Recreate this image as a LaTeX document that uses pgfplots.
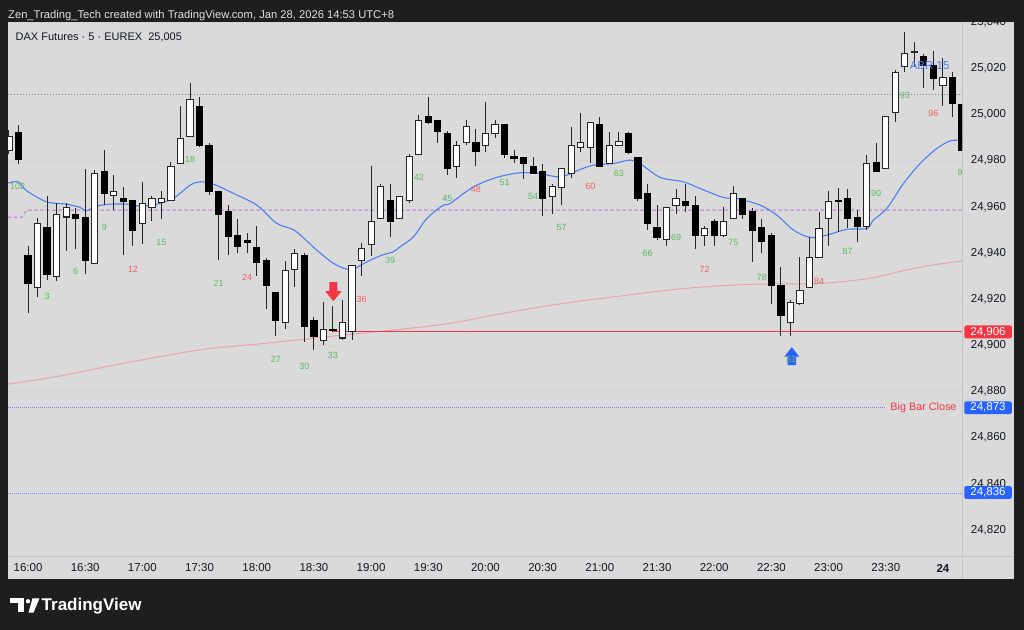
\documentclass[border=0pt]{standalone}
\usepackage{fontspec}
\setmainfont{Liberation Sans}
\usepackage{pgfplots}
\usepackage{pgfplotstable}
\pgfplotsset{compat=1.18}

\definecolor{frame}{HTML}{1E1E1E}
\definecolor{panel}{HTML}{DADADA}
\definecolor{sepc}{HTML}{C4C4C4}
\definecolor{gridc}{HTML}{D5D5D5}
\definecolor{ink}{HTML}{131722}
\definecolor{lblgreen}{HTML}{5DB862}
\definecolor{lblred}{HTML}{F0606A}
\definecolor{ema}{HTML}{4F7EF0}
\definecolor{slow}{HTML}{E9A3A6}
\definecolor{lilac}{HTML}{C59AD6}
\definecolor{tvred}{HTML}{F23645}
\definecolor{tvblue}{HTML}{2962FF}
\definecolor{dotblue}{HTML}{6A84F2}

% signal arrows
\pgfdeclareplotmark{sigdown}{%
  \pgfpathmoveto{\pgfpoint{-4bp}{9.3bp}}%
  \pgfpathlineto{\pgfpoint{4bp}{9.3bp}}%
  \pgfpathlineto{\pgfpoint{4bp}{0.3bp}}%
  \pgfpathlineto{\pgfpoint{8.3bp}{0.3bp}}%
  \pgfpathlineto{\pgfpoint{0bp}{-9.7bp}}%
  \pgfpathlineto{\pgfpoint{-8.3bp}{0.3bp}}%
  \pgfpathlineto{\pgfpoint{-4bp}{0.3bp}}%
  \pgfpathclose\pgfusepathqfill}
\pgfdeclareplotmark{sigup}{%
  \pgfpathmoveto{\pgfpoint{0bp}{8.3bp}}%
  \pgfpathlineto{\pgfpoint{7.5bp}{-1.3bp}}%
  \pgfpathlineto{\pgfpoint{4.2bp}{-1.3bp}}%
  \pgfpathlineto{\pgfpoint{4.2bp}{-9.7bp}}%
  \pgfpathlineto{\pgfpoint{-4.2bp}{-9.7bp}}%
  \pgfpathlineto{\pgfpoint{-4.2bp}{-1.3bp}}%
  \pgfpathlineto{\pgfpoint{-7.5bp}{-1.3bp}}%
  \pgfpathclose\pgfusepathqfill}

% 5-min candles, bar 0 = 16:00
\pgfplotstableread{
i o h l c
-2 24984.5 24993.2 24983.0 24990.6
1 24925.1 24955.1 24921.0 24952.8
3 24929.9 24961.7 24927.9 24956.7
4 24955.6 24961.7 24940.9 24959.7
7 24935.7 24975.8 24935.6 24974.7
9 24964.7 24973.7 24958.8 24966.8
12 24952.8 24970.8 24944.1 24961.7
13 24959.7 24964.6 24953.9 24963.6
14 24961.7 24966.8 24954.9 24963.6
15 24962.6 24979.4 24962.6 24977.6
16 24978.7 25003.6 24978.7 24989.6
17 24990.6 25013.4 24990.6 25006.4
27 24909.9 24936.6 24906.9 24932.6
28 24932.9 24941.9 24925.3 24939.8
31 24902.3 24918.8 24900.1 24906.9
33 24903.2 24919.9 24902.3 24909.9
34 24906.1 24934.7 24902.3 24934.7
35 24936.9 24944.1 24929.9 24941.9
36 24943.8 24977.6 24938.8 24953.8
37 24954.9 24969.8 24954.9 24968.6
39 24954.9 24964.6 24954.9 24964.6
40 24962.6 24982.8 24961.7 24981.6
41 24982.8 24999.7 24982.8 24997.2
45 24977.6 24988.5 24972.7 24986.5
46 24987.7 24997.5 24986.7 24994.6
48 24986.7 25005.4 24983.8 24991.7
49 24991.7 24997.5 24990.0 24995.6
55 24964.6 24969.8 24957.1 24968.6
56 24968.6 24976.6 24960.7 24976.6
57 24974.7 24994.6 24972.7 24986.5
58 24985.5 25000.6 24983.8 24987.7
59 24985.7 24996.5 24979.0 24996.5
61 24978.7 24992.4 24978.7 24986.5
62 24986.7 24992.4 24986.7 24988.5
67 24945.8 24959.7 24943.0 24959.7
68 24960.7 24967.9 24956.8 24963.6
71 24947.7 24951.6 24943.0 24950.6
73 24947.7 24959.7 24946.7 24953.8
74 24954.9 24968.9 24954.9 24965.8
80 24909.9 24919.6 24904.1 24918.8
81 24918.1 24938.1 24917.4 24923.6
82 24925.1 24947.0 24925.1 24937.9
83 24938.1 24957.8 24938.1 24950.6
84 24954.9 24966.9 24943.0 24962.6
88 24951.6 24982.6 24949.9 24978.7
90 24976.8 24999.3 24976.8 24999.3
91 25000.8 25019.1 24996.8 25018.4
92 25020.6 25035.5 25018.4 25026.4
93 25027.2 25031.4 25020.6 25027.4
96 25012.5 25024.6 25003.7 25016.2
}\bull

\pgfplotstableread{
i o h l c
-1 24992.4 24995.3 24978.7 24980.6
0 24938.8 24942.9 24914.1 24926.8
2 24950.9 24964.6 24928.2 24930.8
5 24956.8 24959.7 24941.9 24954.8
6 24955.6 24976.6 24931.1 24936.9
8 24975.5 24984.5 24960.7 24965.8
10 24963.7 24968.6 24939.0 24962.6
11 24962.6 24962.9 24943.0 24949.9
18 25003.6 25007.6 24985.9 24986.4
19 24986.7 24987.7 24965.0 24966.5
20 24966.8 24966.8 24936.9 24956.8
21 24957.8 24960.7 24939.0 24947.0
22 24947.7 24954.9 24940.0 24943.0
23 24945.5 24948.9 24940.0 24944.8
24 24942.6 24951.7 24929.9 24935.7
25 24936.6 24938.1 24916.0 24925.8
26 24922.9 24923.0 24904.1 24910.9
29 24938.8 24939.8 24901.3 24908.0
30 24910.9 24912.1 24898.2 24904.0
32 24906.9 24917.0 24905.8 24906.3
38 24962.6 24969.8 24947.0 24953.5
42 24999.2 25007.6 24995.8 24996.5
43 24997.5 24997.5 24987.7 24992.7
44 24991.7 24992.9 24973.7 24976.6
47 24987.7 24993.5 24977.6 24983.8
50 24995.6 24995.6 24980.9 24982.8
51 24981.6 24984.5 24979.0 24980.9
52 24981.6 24981.6 24971.8 24978.7
53 24977.6 24981.6 24974.7 24974.7
54 24975.5 24978.7 24955.9 24963.6
60 24995.6 24998.7 24977.6 24977.6
63 24991.7 24992.4 24982.8 24983.8
64 24981.6 24981.6 24962.6 24963.6
65 24965.8 24969.8 24949.9 24952.8
66 24950.9 24960.7 24945.5 24946.7
69 24962.6 24969.8 24957.8 24960.7
70 24960.7 24964.6 24941.9 24947.7
72 24953.8 24954.9 24943.0 24947.7
75 24963.6 24963.6 24954.9 24956.8
76 24957.8 24959.7 24936.1 24949.9
77 24950.9 24954.9 24940.0 24944.8
78 24947.7 24948.7 24918.1 24925.8
79 24925.8 24934.0 24904.1 24913.1
85 24962.6 24967.9 24949.1 24962.4
86 24963.6 24967.9 24951.0 24954.9
87 24955.6 24958.5 24944.8 24951.6
89 24979.4 24987.7 24975.5 24975.5
94 25025.2 25026.4 25011.5 25021.3
95 25021.3 25027.4 25010.5 25015.5
97 25016.2 25018.4 24998.7 25004.7
98 25004.4 25004.4 24984.5 24984.5
}\bear

% bar count labels
\pgfplotstableread{
x y t
-1.1 24968.6 102
2.0 24921.0 3
5.0 24931.8 6
8.0 24950.9 9
14.0 24944.5 15
17.0 24980.6 18
20.0 24926.8 21
26.0 24894.0 27
29.0 24891.0 30
32.0 24895.8 33
38.0 24936.6 39
41.0 24972.7 42
44.0 24963.6 45
50.0 24970.5 51
53.0 24964.6 54
56.0 24950.9 57
62.0 24974.5 63
65.0 24939.8 66
68.0 24946.8 69
74.0 24944.5 75
77.0 24929.6 78
80.1 24893.9 81
86.0 24940.5 87
89.0 24965.8 90
92.0 25008.3 93
97.8 24974.7 9
}\greenlabels

\pgfplotstableread{
x y t
11.0 24933.0 12
23.0 24929.6 24
35.0 24919.9 36
47.0 24967.5 48
59.0 24968.6 60
71.0 24933.0 72
83.0 24927.8 84
95.0 25000.4 96
}\redlabels

\tikzset{fnt/.style={font=\fontsize{#1bp}{#1bp}\selectfont}}
\pgfplotsset{
  wick/.style={draw=none, mark=none, forget plot, error bars/.cd, y dir=both, y explicit,
    error mark=none, error bar style={draw=black!85, line width=1bp}},
  body/.style 2 args={draw=none, mark=none, forget plot, error bars/.cd, y dir=both, y explicit,
    error mark=none, error bar style={draw=#1, line width=#2}},
  counts/.style={draw=none, mark=none, nodes near coords, point meta=explicit symbolic,
    nodes near coords style={anchor=center, fnt=9, text=#1, inner sep=0pt}},
}

\begin{document}
\begin{tikzpicture}[x=1bp,y=1bp]
\fill[frame] (0,0) rectangle (1024,630);
\fill[panel] (8,51) rectangle (1014,608);
\draw[sepc, line width=1] (962.5,51) -- (962.5,608);
\draw[sepc, line width=1] (8,73.5) -- (1014,73.5);

\begin{axis}[
    at={(8bp,74bp)}, anchor=south west,
    scale only axis, width=954bp, height=534bp,
    xmin=-2.1, xmax=98.0,
    ymin=24808.75, ymax=25040,
    axis line style={draw=none},
    major tick length=0pt,
    xtick={0,6,...,96},
    xticklabels={16:00,16:30,17:00,17:30,18:00,18:30,19:00,19:30,20:00,20:30,21:00,21:30,22:00,22:30,23:00,23:30,\textbf{24}},
    ytick={24820,24840,...,25040},
    yticklabel pos=right,
    scaled y ticks=false,
    ymajorgrids, grid style={gridc, line width=0.7bp},
    tick label style={fnt=11.5, text=ink},
    xticklabel style={anchor=center, yshift=-12bp},
    yticklabel style={anchor=center, xshift=26.5bp,
        /pgf/number format/fixed, /pgf/number format/precision=0,
        /pgf/number format/1000 sep={,},
        /pgf/number format/assume math mode=true},
]
% slow average
\addplot[draw=slow, line width=1bp, smooth] coordinates {
(-2.1,24883.2) (3.36,24886.7) (9.65,24891.9) (18.05,24898.0) (25.05,24900.9)
(32.04,24904.0) (39.03,24906.9) (44.28,24909.5) (49.53,24913.6) (55.82,24917.9)
(62.12,24921.3) (69.12,24924.7) (76.11,24926.4) (83.1,24926.8) (88.35,24929.0)
(91.5,24932.0) (94.7,24934.6) (98.0,24936.5)};
% reference levels
\addplot[draw=lilac, line width=1.6bp, dash pattern=on 3.5bp off 2.5bp] coordinates {
(-2.1,24955.4) (-0.66,24955.4) (-0.14,24958.5) (98.0,24958.5)};
\addplot[draw=black!50, line width=0.8bp, dash pattern=on 1bp off 2bp] coordinates {
(-2.1,25008.7) (98.0,25008.7)};
\addplot[draw=dotblue, line width=0.9bp, dash pattern=on 1bp off 1bp] coordinates {
(-2.1,24873) (89.9,24873)};
\addplot[draw=dotblue, line width=0.9bp, dash pattern=on 1bp off 1bp] coordinates {
(-2.1,24836) (98.0,24836)};
\addplot[draw=tvred, line width=1.1bp] coordinates {(32.0,24906) (98.0,24906)};
% ABR label behind candles
\addplot[draw=none, mark=none, nodes near coords={ABR 15},
    nodes near coords style={anchor=center, fnt=11.5, text=ema}] coordinates {(94.6,25021.3)};
% fast average
\addplot[draw=ema, line width=1.1bp, smooth] coordinates {
(-2.1,24970.2) (-1.05,24970.8) (-0.14,24966.9) (1.96,24962.1) (4.06,24961.1)
(5.46,24959.7) (6.09,24958.2) (7.21,24960.3) (8.6,24961.1) (10.36,24961.1)
(11.75,24960.3) (13.5,24961.1) (15.25,24963.6) (17.0,24969.3) (18.05,24970.8)
(19.44,24969.8) (21.54,24965.8) (24.0,24960.7) (26.1,24952.8) (28.02,24949.6)
(30.29,24941.2) (32.04,24935.5) (33.44,24933.0) (34.31,24933.3) (35.54,24936.1)
(37.12,24939.0) (38.33,24940.5) (39.03,24942.6) (40.43,24946.9) (41.84,24954.9)
(43.58,24960.7) (44.28,24961.4) (46.73,24968.6) (49.18,24972.7) (51.63,24974.7)
(53.73,24974.4) (55.82,24972.9) (57.92,24976.1) (59.32,24978.0) (61.42,24978.7)
(63.2,24980.2) (64.22,24978.7) (66.32,24972.7) (68.76,24970.8) (70.51,24967.9)
(72.96,24964.0) (74.36,24963.6) (76.81,24960.7) (78.56,24956.4) (80.31,24949.9)
(82.06,24946.7) (83.81,24947.7) (85.91,24950.2) (88.01,24950.6) (88.7,24954.2)
(90.1,24959.2) (91.85,24970.0) (93.6,24978.7) (95.35,24985.2) (96.75,24988.5)
(98.0,24988.8)};
% wicks
\addplot[wick] table[x=i, y expr={(\thisrow{h}+\thisrow{l})/2}, y error expr={(\thisrow{h}-\thisrow{l})/2}] {\bull};
\addplot[wick] table[x=i, y expr={(\thisrow{h}+\thisrow{l})/2}, y error expr={(\thisrow{h}-\thisrow{l})/2}] {\bear};
% bodies
\addplot[body={black}{7.2bp}] table[x=i, y expr={(\thisrow{o}+\thisrow{c})/2}, y error expr={abs(\thisrow{c}-\thisrow{o})/2+0.22}] {\bear};
\addplot[body={black!85}{7.2bp}] table[x=i, y expr={(\thisrow{o}+\thisrow{c})/2}, y error expr={abs(\thisrow{c}-\thisrow{o})/2+0.22}] {\bull};
\addplot[body={white}{5.2bp}] table[x=i, y expr={(\thisrow{o}+\thisrow{c})/2}, y error expr={max(abs(\thisrow{c}-\thisrow{o})/2-0.22,0)}] {\bull};
% signals
\addplot[only marks, mark=sigdown, mark options={fill=tvred, draw=none}] coordinates {(32.04,24923.3)};
\addplot[only marks, mark=sigup, mark options={fill=tvblue, draw=none}] coordinates {(80.14,24895.6)};
% bar counts
\addplot[counts=lblgreen] table[x=x, y=y, meta=t] {\greenlabels};
\addplot[counts=lblred] table[x=x, y=y, meta=t] {\redlabels};
\end{axis}

% price tags on the scale
\node[fill=tvred, text=white, fnt=11.5, minimum width=47.5bp, minimum height=12.8bp,
    inner sep=0pt, rounded corners=1.5bp] at (988,298.1) {24,906};
\node[fill=tvblue, text=white, fnt=11.5, minimum width=47.5bp, minimum height=12.8bp,
    inner sep=0pt, rounded corners=1.5bp] at (988,222.3) {24,873};
\node[fill=tvblue, text=white, fnt=11.5, minimum width=47.5bp, minimum height=12.8bp,
    inner sep=0pt, rounded corners=1.5bp] at (988,137.5) {24,836};
\node[anchor=east, text=tvred, fnt=10.8, inner sep=0pt] at (956.7,222.5) {Big Bar Close};

% header
\fill[frame] (0,608) rectangle (1024,630);
\node[anchor=base west, inner sep=0pt, text=white!88!black, fnt=11.2] at (8,611)
    {Zen\_Trading\_Tech created with TradingView.com, Jan 28, 2026 14:53 UTC+8};
\node[anchor=base west, inner sep=0pt, text=ink, fnt=11] at (15.5,589)
    {DAX Futures · 5 · EUREX\ \ 25,005};

% footer logo
\fill[white] (10,31.7) rectangle (24,26.5);
\fill[white] (17.5,31.7) rectangle (24,17.5);
\fill[white] (28,28.7) circle (2.2);
\fill[white] (32.5,31.7) -- (39.5,31.7) -- (33.5,17.3) -- (28.5,17.3) -- cycle;
\node[anchor=base west, inner sep=0pt, text=white, font=\fontsize{17bp}{17bp}\selectfont\bfseries] at (41.5,19.3) {TradingView};
\end{tikzpicture}
\end{document}
